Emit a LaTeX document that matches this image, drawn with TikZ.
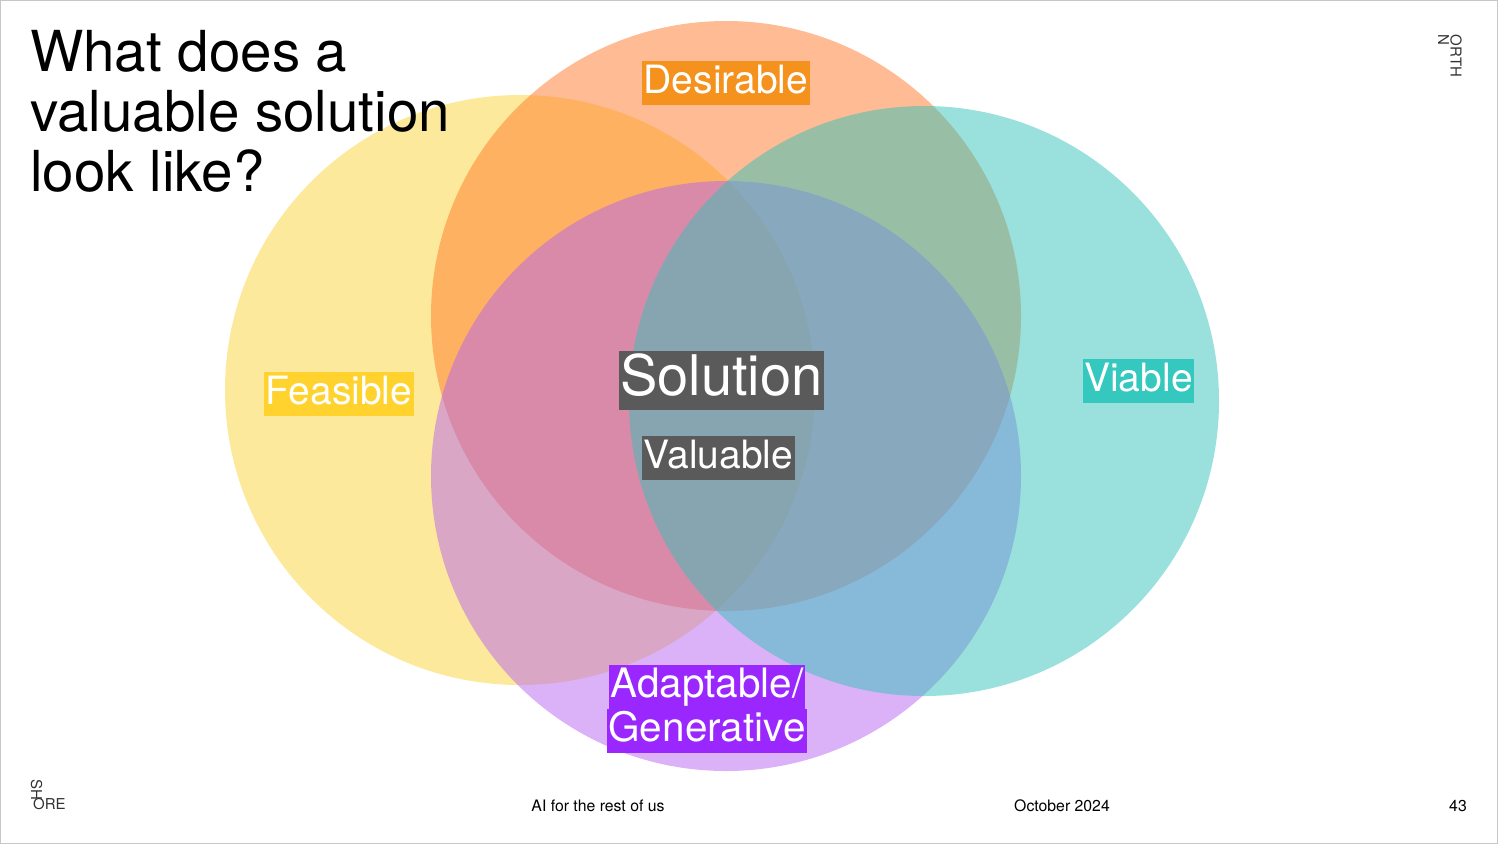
\documentclass[tikz,border=0pt]{standalone}
\usepackage{fontspec}
\setmainfont{TeX Gyre Heros}
\usetikzlibrary{positioning}
\definecolor{Yel}{RGB}{251,211,55}
\definecolor{Ora}{RGB}{255,121,41}
\definecolor{Teal}{RGB}{53,193,185}
\definecolor{Pur}{RGB}{183,101,241}
\definecolor{YelTag}{HTML}{FFD22E}
\definecolor{OraTag}{HTML}{F5921E}
\definecolor{TealTag}{HTML}{35C8BF}
\definecolor{PurTag}{HTML}{9B27FF}
\definecolor{SolTag}{HTML}{5A5A5A}
\definecolor{Logo}{HTML}{333333}

\begin{document}
\begin{tikzpicture}[x=1pt,y=-1pt,
  tag/.style={text=white,inner xsep=1.5pt,inner ysep=2.5pt,text height=30pt,text depth=9pt,font=\fontsize{39}{44}\selectfont},
  foot/.style={anchor=base,font=\fontsize{15.8}{18}\selectfont},
  logo/.style={inner sep=0,text=Logo,font=\fontsize{15}{18}\selectfont}]
\useasboundingbox (0,0) rectangle (1498,844);
\draw[black!22] (.5,.5) rectangle (1497.5,843.5);
% the four sets
\foreach \n/\c/\x/\y in {feas/Yel/520/390,des/Ora/726/316,ada/Pur/726/476,via/Teal/924/401}{\fill[\c,fill opacity=.5] (\x,\y) coordinate (\n) circle[radius=295pt];}
\node[anchor=north west,inner sep=0,align=left,font=\fontsize{56.5}{60}\selectfont] (title) at (30,30) {What does a\\valuable solution\\look like?};
% labels
\node[tag,fill=OraTag] (desl) at (726,83) {Desirable};
\node[tag,fill=YelTag] (feasl) at (339,393.5) {Feasible};
\node[tag,fill=TealTag] (vial) at (1138.5,380.5) {Viable};
\node[tag,fill=SolTag,inner ysep=3pt,text height=41pt,text depth=12pt,font=\fontsize{56}{60}\selectfont] (sol) at (721.5,380.5) {Solution};
\node[tag,fill=SolTag] (val) at (718.5,457.5) {Valuable};
\node[tag,fill=PurTag,font=\fontsize{40.5}{44}\selectfont] (adal) at (707,686.5) {Adaptable/};
\node[tag,fill=PurTag,font=\fontsize{40.5}{44}\selectfont,below=0pt of adal] (gen) {Generative};
% footer
\node[foot] (ai) at (598,811) {AI for the rest of us};
\node[foot] (date) at (1062,811) {October 2024};
\node[foot] (page) at (1458,811) {43};
\node[logo,anchor=base west] (ore) at (33,809) {ORE};
\node[logo,rotate=-90] (sh) at (36.5,789.5) {SH};
\node[logo,rotate=-90] (orth) at (1456,56) {ORTH};
\node[logo,rotate=-90] (nn) at (1443.5,40) {N};
\end{tikzpicture}
\end{document}
